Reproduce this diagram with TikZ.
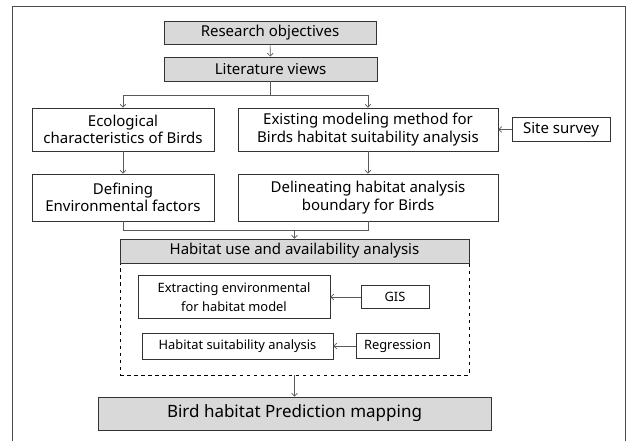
\documentclass[tikz,border=0pt]{standalone}
\usepackage{fontspec}
\setmainfont{Noto Sans}
\usetikzlibrary{arrows.meta}

\begin{document}
\begin{tikzpicture}[%
      x=0.03cm, y=-0.03cm,
      every node/.style={draw=black!80, line width=0.8pt, align=center,
                         inner sep=1pt, font={\fontsize{12.8}{14.8}\selectfont}},
      grey/.style={fill=black!15},
      small/.style={font={\fontsize{11}{16}\selectfont}},
      size/.style 2 args={minimum width=#1*0.03cm, minimum height=#2*0.03cm},
      link/.style={draw=black!65, line width=0.5pt},
      arr/.style={link, -{Straight Barb[length=2.5pt,width=5pt]}}
    ]
    \useasboundingbox (0,0) rectangle (630,441);
    \draw[black!70, line width=0.8pt] (12,441) |- (625,6) -- (625,441);

    \node [grey, size={212}{23}] (objectives) at (270,32.5) {Research objectives};
    \node [grey, size={213}{24}] (literature) at (270.5,69) {Literature views};
    \node [size={182}{43}] (ecology) at (123,129.5) {Ecological\\characteristics of Birds};
    \node [size={260}{43}] (modeling) at (368,129.5)
     {Existing modeling method for\\Birds habitat suitability analysis};
    \node [size={98}{24}] (survey) at (561,129.5) {Site survey};
    \node [size={182}{47}] (factors) at (123,197.5) {Defining\\Environmental factors};
    \node [size={260}{47}] (boundary) at (368,197.5)
     {Delineating habitat analysis\\boundary for Birds};

    % dashed frame first, its grey title over the top edge
    \node [dashed, draw=black, line width=0.6pt, size={349}{112}] (analysis) at (294.5,319) {};
    \node [grey, size={349}{24}] (usage) at (294.5,251) {Habitat use and availability analysis};
    \node [small, size={192}{43}] (extract) at (234,297) {Extracting environmental\\for habitat model};
    \node [small, size={68}{23}] (gis) at (395,297) {GIS};
    \node [small, size={191}{26}] (suitability) at (237.5,346) {Habitat suitability analysis};
    \node [small, size={83}{25}] (regression) at (397.5,346) {Regression};

    \node [grey, size={393}{33}, font={\fontsize{14.5}{17}\selectfont}] (mapping)
     at (294.5,413.5) {Bird habitat Prediction mapping};

    \coordinate (split) at (270.5,95);
    \coordinate (merge) at (294.5,230);
    \draw[arr] (objectives) -- (literature);
    \draw[link] (literature) -- (split);
    \draw[arr] (split) -| (ecology);
    \draw[arr] (split) -| (modeling);
    \draw[arr] (ecology) -- (factors);
    \draw[arr] (modeling) -- (boundary);
    \draw[link] (factors) |- (merge);
    \draw[link] (boundary) |- (merge);
    \draw[arr] (merge) -- (usage);
    \draw[arr] (survey) -- (modeling);
    \draw[arr] (gis) -- (extract);
    \draw[arr] (regression) -- (suitability);
    \draw[arr] (analysis) -- (mapping);
\end{tikzpicture}
\end{document}
